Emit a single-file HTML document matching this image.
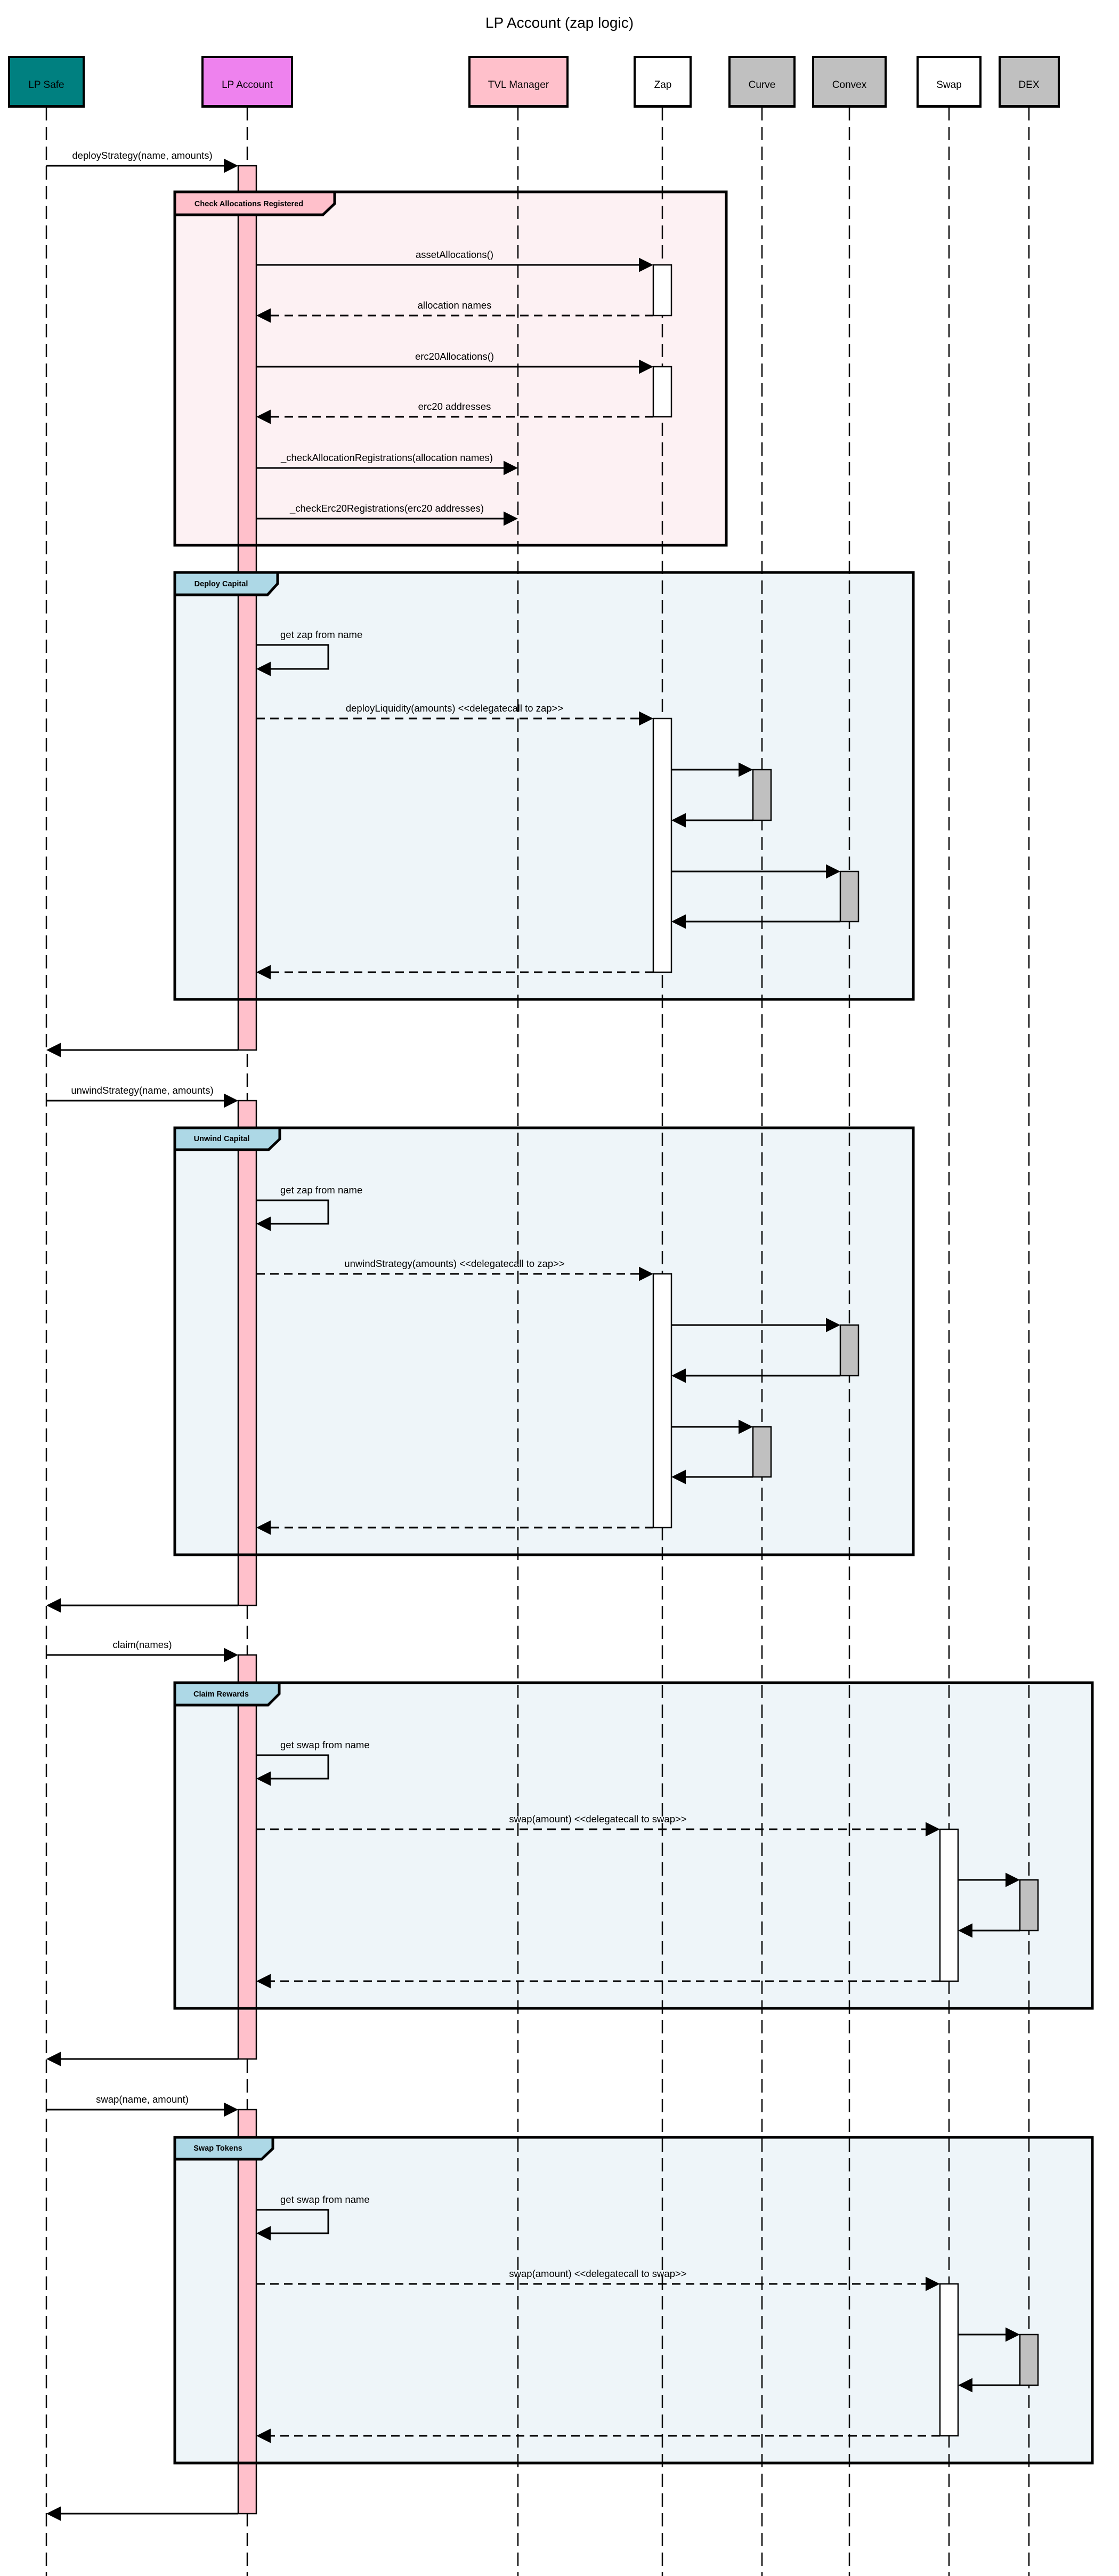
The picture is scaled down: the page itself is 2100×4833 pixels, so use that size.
<!DOCTYPE html>
<html><head><meta charset="utf-8"><style>
html,body{margin:0;padding:0;background:#fff;}
svg{display:block;}
text{font-family:"Liberation Sans",Arial,sans-serif;fill:#000;}
.m{font-size:18.5px;text-anchor:middle;}
.p{font-size:19px;text-anchor:middle;}
.t{font-size:14.5px;font-weight:bold;text-anchor:middle;}
.ll{stroke:#000;stroke-width:2.5;stroke-dasharray:25 12;}
.s{stroke:#000;stroke-width:3;fill:none;}
.d{stroke:#000;stroke-width:3;fill:none;stroke-dasharray:16 10;}
.fb{fill:none;stroke:#000;stroke-width:5;}
.act{stroke:#000;stroke-width:2.5;}
</style></head><body>
<svg width="2100" height="4833" viewBox="0 0 2100 4833" xmlns="http://www.w3.org/2000/svg">
<rect width="2100" height="4833" fill="#fff"/>
<text x="1050" y="52" style="font-size:28px;text-anchor:middle">LP Account (zap logic)</text>

<rect x="328" y="360" width="1035" height="663" fill="#fdf1f3"/>
<rect x="328" y="1074" width="1386" height="801" fill="#eef5f9"/>
<rect x="328" y="2116" width="1386" height="801" fill="#eef5f9"/>
<rect x="328" y="3157" width="1722" height="611" fill="#eef5f9"/>
<rect x="328" y="4010" width="1722" height="611" fill="#eef5f9"/>

<line class="ll" x1="87" y1="201" x2="87" y2="4833"/>
<line class="ll" x1="464" y1="201" x2="464" y2="4833"/>
<line class="ll" x1="972" y1="201" x2="972" y2="4833"/>
<line class="ll" x1="1243" y1="201" x2="1243" y2="4833"/>
<line class="ll" x1="1430" y1="201" x2="1430" y2="4833"/>
<line class="ll" x1="1594" y1="201" x2="1594" y2="4833"/>
<line class="ll" x1="1781" y1="201" x2="1781" y2="4833"/>
<line class="ll" x1="1931" y1="201" x2="1931" y2="4833"/>

<g stroke="#000" stroke-width="4">
<rect x="17" y="107" width="140" height="92" fill="#008080"/>
<rect x="380" y="107" width="168" height="92" fill="#ee82ee"/>
<rect x="881" y="107" width="184" height="92" fill="#ffc0cb"/>
<rect x="1191" y="107" width="105" height="92" fill="#fff"/>
<rect x="1369" y="107" width="122" height="92" fill="#c0c0c0"/>
<rect x="1526" y="107" width="136" height="92" fill="#c0c0c0"/>
<rect x="1722" y="107" width="118" height="92" fill="#fff"/>
<rect x="1876" y="107" width="111" height="92" fill="#c0c0c0"/>
</g>
<g fill="#000">
<rect x="15" y="197" width="144" height="5"/>
<rect x="378" y="197" width="172" height="5"/>
<rect x="879" y="197" width="188" height="5"/>
<rect x="1189" y="197" width="109" height="5"/>
<rect x="1367" y="197" width="126" height="5"/>
<rect x="1524" y="197" width="140" height="5"/>
<rect x="1720" y="197" width="122" height="5"/>
<rect x="1874" y="197" width="115" height="5"/>
</g>
<text class="p" x="87" y="165">LP Safe</text>
<text class="p" x="464" y="165">LP Account</text>
<text class="p" x="973" y="165">TVL Manager</text>
<text class="p" x="1244" y="165">Zap</text>
<text class="p" x="1430" y="165">Curve</text>
<text class="p" x="1594" y="165">Convex</text>
<text class="p" x="1781" y="165">Swap</text>
<text class="p" x="1931" y="165">DEX</text>

<g class="act" fill="#ffc0cb">
<rect x="447" y="311" width="34" height="1659"/>
<rect x="447" y="2065" width="34" height="947"/>
<rect x="447" y="3105" width="34" height="758"/>
<rect x="447" y="3958" width="34" height="758"/>
</g>
<g class="act" fill="#fff">
<rect x="1226" y="497" width="34" height="95"/>
<rect x="1226" y="688" width="34" height="94"/>
<rect x="1226" y="1348" width="34" height="476"/>
<rect x="1226" y="2390" width="34" height="476"/>
<rect x="1764" y="3432" width="34" height="285"/>
<rect x="1764" y="4285" width="34" height="285"/>
</g>
<g class="act" fill="#c0c0c0">
<rect x="1413" y="1444" width="34" height="95"/>
<rect x="1577" y="1635" width="34" height="94"/>
<rect x="1577" y="2486" width="34" height="95"/>
<rect x="1413" y="2677" width="34" height="94"/>
<rect x="1914" y="3527" width="34" height="95"/>
<rect x="1914" y="4380" width="34" height="95"/>
</g>

<g>
<line class="s" x1="87" y1="311" x2="430" y2="311"/><polygon points="447,311 420,297.5 420,324.5"/>
<text class="m" x="267" y="298">deployStrategy(name, amounts)</text>

<line class="s" x1="481" y1="497" x2="1210" y2="497"/><polygon points="1226,497 1199,483.5 1199,510.5"/>
<text class="m" x="853" y="484">assetAllocations()</text>
<line class="d" x1="1226" y1="592" x2="500" y2="592"/><polygon points="481,592 508,578.5 508,605.5"/>
<text class="m" x="853" y="579">allocation names</text>
<line class="s" x1="481" y1="688" x2="1210" y2="688"/><polygon points="1226,688 1199,674.5 1199,701.5"/>
<text class="m" x="853" y="675">erc20Allocations()</text>
<line class="d" x1="1226" y1="782" x2="500" y2="782"/><polygon points="481,782 508,768.5 508,795.5"/>
<text class="m" x="853" y="769">erc20 addresses</text>
<line class="s" x1="481" y1="878" x2="955" y2="878"/><polygon points="972,878 945,864.5 945,891.5"/>
<text class="m" x="726" y="865">_checkAllocationRegistrations(allocation names)</text>
<line class="s" x1="481" y1="973" x2="955" y2="973"/><polygon points="972,973 945,959.5 945,986.5"/>
<text class="m" x="726" y="960">_checkErc20Registrations(erc20 addresses)</text>

<polyline class="s" points="481,1210 616,1210 616,1255 500,1255"/><polygon points="481,1255 508,1241.5 508,1268.5"/>
<text x="526" y="1197" style="font-size:18.5px">get zap from name</text>
<line class="d" x1="481" y1="1348" x2="1210" y2="1348"/><polygon points="1226,1348 1199,1334.5 1199,1361.5"/>
<text class="m" x="853" y="1335">deployLiquidity(amounts) &lt;&lt;delegatecall to zap&gt;&gt;</text>
<line class="s" x1="1260" y1="1444" x2="1398" y2="1444"/><polygon points="1413,1444 1386,1430.5 1386,1457.5"/>
<line class="s" x1="1413" y1="1539" x2="1275" y2="1539"/><polygon points="1260,1539 1287,1525.5 1287,1552.5"/>
<line class="s" x1="1260" y1="1635" x2="1562" y2="1635"/><polygon points="1577,1635 1550,1621.5 1550,1648.5"/>
<line class="s" x1="1577" y1="1729" x2="1275" y2="1729"/><polygon points="1260,1729 1287,1715.5 1287,1742.5"/>
<line class="d" x1="1226" y1="1824" x2="500" y2="1824"/><polygon points="481,1824 508,1810.5 508,1837.5"/>
<line class="s" x1="447" y1="1970" x2="104" y2="1970"/><polygon points="87,1970 114,1956.5 114,1983.5"/>

<line class="s" x1="87" y1="2065" x2="430" y2="2065"/><polygon points="447,2065 420,2051.5 420,2078.5"/>
<text class="m" x="267" y="2052">unwindStrategy(name, amounts)</text>
<polyline class="s" points="481,2252 616,2252 616,2296 500,2296"/><polygon points="481,2296 508,2282.5 508,2309.5"/>
<text x="526" y="2239" style="font-size:18.5px">get zap from name</text>
<line class="d" x1="481" y1="2390" x2="1210" y2="2390"/><polygon points="1226,2390 1199,2376.5 1199,2403.5"/>
<text class="m" x="853" y="2377">unwindStrategy(amounts) &lt;&lt;delegatecall to zap&gt;&gt;</text>
<line class="s" x1="1260" y1="2486" x2="1562" y2="2486"/><polygon points="1577,2486 1550,2472.5 1550,2499.5"/>
<line class="s" x1="1577" y1="2581" x2="1275" y2="2581"/><polygon points="1260,2581 1287,2567.5 1287,2594.5"/>
<line class="s" x1="1260" y1="2677" x2="1398" y2="2677"/><polygon points="1413,2677 1386,2663.5 1386,2690.5"/>
<line class="s" x1="1413" y1="2771" x2="1275" y2="2771"/><polygon points="1260,2771 1287,2757.5 1287,2784.5"/>
<line class="d" x1="1226" y1="2866" x2="500" y2="2866"/><polygon points="481,2866 508,2852.5 508,2879.5"/>
<line class="s" x1="447" y1="3012" x2="104" y2="3012"/><polygon points="87,3012 114,2998.5 114,3025.5"/>

<line class="s" x1="87" y1="3105" x2="430" y2="3105"/><polygon points="447,3105 420,3091.5 420,3118.5"/>
<text class="m" x="267" y="3092">claim(names)</text>
<polyline class="s" points="481,3293 616,3293 616,3337 500,3337"/><polygon points="481,3337 508,3323.5 508,3350.5"/>
<text x="526" y="3280" style="font-size:18.5px">get swap from name</text>
<line class="d" x1="481" y1="3432" x2="1748" y2="3432"/><polygon points="1764,3432 1737,3418.5 1737,3445.5"/>
<text class="m" x="1122" y="3419">swap(amount) &lt;&lt;delegatecall to swap&gt;&gt;</text>
<line class="s" x1="1798" y1="3527" x2="1899" y2="3527"/><polygon points="1914,3527 1887,3513.5 1887,3540.5"/>
<line class="s" x1="1914" y1="3622" x2="1813" y2="3622"/><polygon points="1798,3622 1825,3608.5 1825,3635.5"/>
<line class="d" x1="1764" y1="3717" x2="500" y2="3717"/><polygon points="481,3717 508,3703.5 508,3730.5"/>
<line class="s" x1="447" y1="3863" x2="104" y2="3863"/><polygon points="87,3863 114,3849.5 114,3876.5"/>

<line class="s" x1="87" y1="3958" x2="430" y2="3958"/><polygon points="447,3958 420,3944.5 420,3971.5"/>
<text class="m" x="267" y="3945">swap(name, amount)</text>
<polyline class="s" points="481,4146 616,4146 616,4190 500,4190"/><polygon points="481,4190 508,4176.5 508,4203.5"/>
<text x="526" y="4133" style="font-size:18.5px">get swap from name</text>
<line class="d" x1="481" y1="4285" x2="1748" y2="4285"/><polygon points="1764,4285 1737,4271.5 1737,4298.5"/>
<text class="m" x="1122" y="4272">swap(amount) &lt;&lt;delegatecall to swap&gt;&gt;</text>
<line class="s" x1="1798" y1="4380" x2="1899" y2="4380"/><polygon points="1914,4380 1887,4366.5 1887,4393.5"/>
<line class="s" x1="1914" y1="4475" x2="1813" y2="4475"/><polygon points="1798,4475 1825,4461.5 1825,4488.5"/>
<line class="d" x1="1764" y1="4570" x2="500" y2="4570"/><polygon points="481,4570 508,4556.5 508,4583.5"/>
<line class="s" x1="447" y1="4716" x2="104" y2="4716"/><polygon points="87,4716 114,4702.5 114,4729.5"/>
</g>

<rect class="fb" x="328" y="360" width="1035" height="663"/>
<path d="M328,360 L628,360 L628,382 L606,403 L328,403 Z" fill="#ffc0cb" stroke="#000" stroke-width="5"/>
<text class="t" x="467" y="387">Check Allocations Registered</text>

<rect class="fb" x="328" y="1074" width="1386" height="801"/>
<path d="M328,1074 L521,1074 L521,1095 L502,1116 L328,1116 Z" fill="#add8e6" stroke="#000" stroke-width="5"/>
<text class="t" x="415" y="1100">Deploy Capital</text>

<rect class="fb" x="328" y="2116" width="1386" height="801"/>
<path d="M328,2116 L525,2116 L525,2137 L504,2157 L328,2157 Z" fill="#add8e6" stroke="#000" stroke-width="5"/>
<text class="t" x="416" y="2141">Unwind Capital</text>

<rect class="fb" x="328" y="3157" width="1722" height="611"/>
<path d="M328,3157 L524,3157 L524,3178 L503,3199 L328,3199 Z" fill="#add8e6" stroke="#000" stroke-width="5"/>
<text class="t" x="415" y="3183">Claim Rewards</text>

<rect class="fb" x="328" y="4010" width="1722" height="611"/>
<path d="M328,4010 L512,4010 L512,4031 L491,4051 L328,4051 Z" fill="#add8e6" stroke="#000" stroke-width="5"/>
<text class="t" x="409" y="4035">Swap Tokens</text>
</svg>
</body></html>
